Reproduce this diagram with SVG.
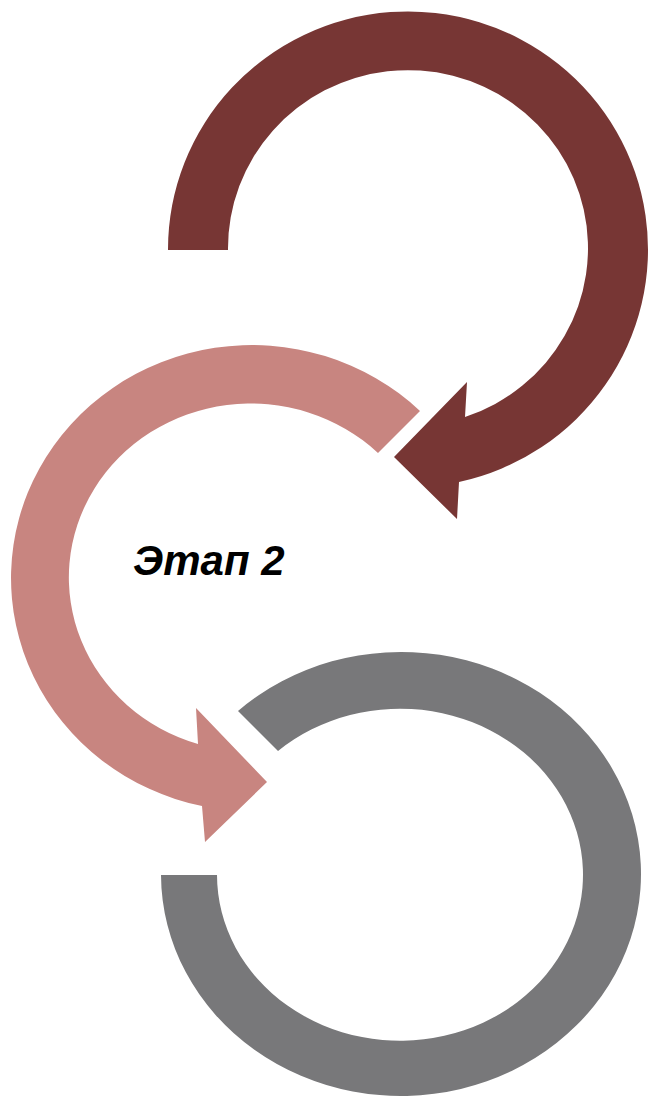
<svg xmlns="http://www.w3.org/2000/svg" width="649" height="1096" viewBox="0 0 649 1096">
  <style>
    .dark { fill: #773634; }
    .pink { fill: #C88580; }
    .gray { fill: #78787A; }
    .label { font-family: "Liberation Sans", Arial, sans-serif; font-weight: bold; font-style: italic; font-size: 42px; fill: #000000; }
  </style>
  <rect width="649" height="1096" fill="#FFFFFF"/>
  <g id="stage1">
    <path class="dark" d="M 168 250 A 240 238 0 1 1 459 482 L 457 519 L 394 457 L 467 382 L 465 417 A 180 178 0 1 0 228 250 Z"/>
  </g>
  <g id="stage2">
    <path class="pink" d="M 420 411 A 241 233 0 1 0 202 806 L 205 842 L 267 782 L 196 708 L 198 744 A 182 174 0 1 1 378 453 Z"/>
    <text class="label" x="133" y="575">Этап 2</text>
  </g>
  <g id="stage3">
    <path class="gray" d="M 238 711 A 240 222 0 1 1 161 875 L 217 875 A 183 166 0 1 0 278 751 Z"/>
  </g>
  <g id="connectors"></g>
</svg>
